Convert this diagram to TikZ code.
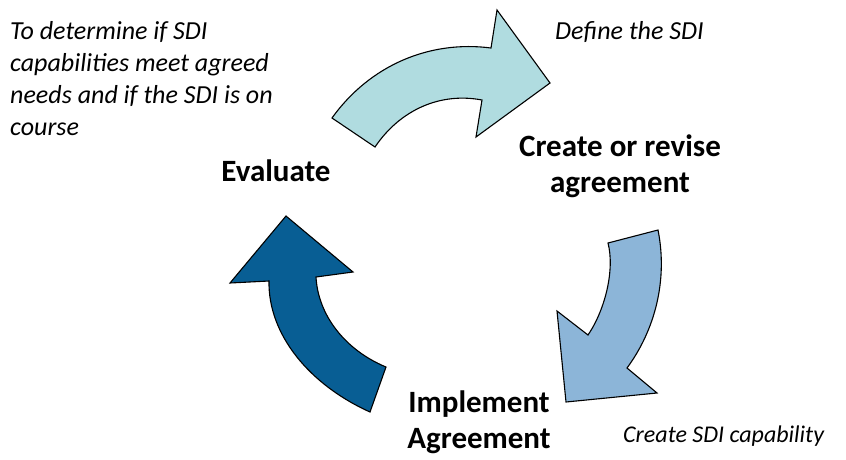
\documentclass[tikz,border=0pt]{standalone}
\usepackage{fontspec}
\setmainfont{Carlito}
\definecolor{arrowA}{RGB}{176,220,224}
\definecolor{arrowB}{RGB}{140,181,216}
\definecolor{arrowC}{RGB}{8,94,148}
\tikzset{
  bigarrow/.style={draw=black, line width=1.1pt, line join=miter},
  headtext/.style={font=\fontsize{31}{36}\selectfont\bfseries, align=center, inner sep=0pt},
  notetext/.style={font=\fontsize{26}{32}\selectfont\itshape, align=left, inner sep=0pt},
  smallnote/.style={font=\fontsize{24}{29}\selectfont\itshape, align=left, inner sep=0pt},
}
\begin{document}
\begin{tikzpicture}[x=1pt,y=-1pt]
\useasboundingbox (0,0) rectangle (846,459);
% top arrow
\path[bigarrow, fill=arrowA] (332,118) .. controls (370,65) and (430,40) .. (491,48)
  -- (497,10) -- (550,83) -- (476,137) -- (482,100)
  .. controls (440,92) and (400,110) .. (375,147) -- cycle;
% right arrow
\path[bigarrow, fill=arrowB] (608,243) -- (658,230)
  .. controls (668,280) and (655,330) .. (627,368)
  -- (657,393) -- (566,402) -- (557,311) -- (588,335)
  .. controls (605,310) and (615,270) .. (608,243) -- cycle;
% left arrow
\path[bigarrow, fill=arrowC] (370,412) .. controls (310,385) and (268,335) .. (269,281)
  -- (230,283) -- (286,216) -- (353,272) -- (316,277)
  .. controls (318,315) and (345,350) .. (386,367) -- cycle;
% labels
\node[headtext, anchor=base] (eval) at (276,181) {Evaluate};
\node[headtext, anchor=base] (create) at (620,192) {Create or revise\\agreement};
\node[headtext, anchor=base] (impl) at (479,448) {Implement\\Agreement};
\node[notetext, anchor=base west] (define) at (555,39) {Define the SDI};
\node[notetext, anchor=base west] (determine) at (10,135) {To determine if SDI\\capabilities meet agreed\\needs and if the SDI is on\\course};
\node[smallnote, anchor=base west] (capab) at (623,442) {Create SDI capability};
\end{tikzpicture}
\end{document}
